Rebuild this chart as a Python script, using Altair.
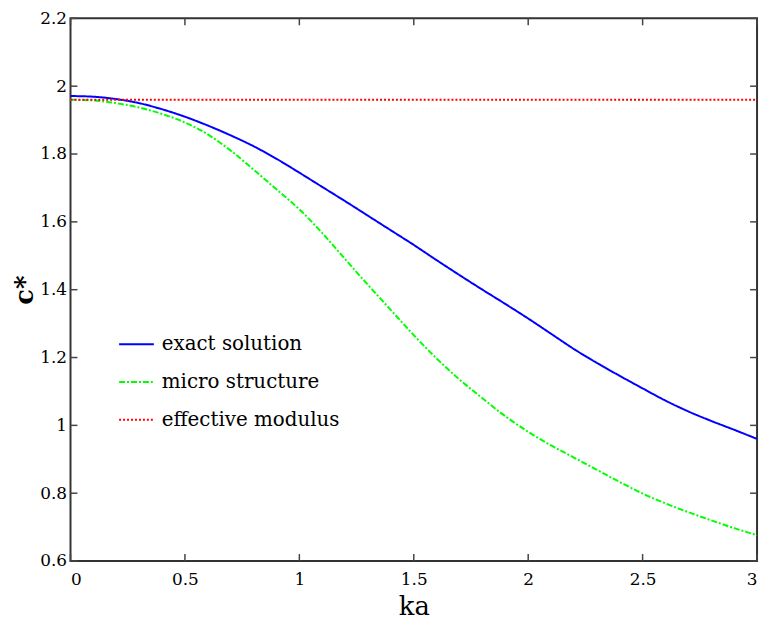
import altair as alt
import pandas as pd

# ---- data ----
ka = [0.0, 0.1, 0.2, 0.3, 0.4, 0.5, 0.6, 0.7, 0.8, 0.9, 1.0,
      1.1, 1.2, 1.3, 1.4, 1.5, 1.6, 1.7, 1.8, 1.9, 2.0,
      2.1, 2.2, 2.3, 2.4, 2.5, 2.6, 2.7, 2.8, 2.9, 3.0]
exact_solution = [1.971, 1.969, 1.962, 1.950, 1.932, 1.910, 1.884, 1.855, 1.823, 1.786, 1.745,
                  1.703, 1.661, 1.618, 1.575, 1.532, 1.487, 1.443, 1.400, 1.358, 1.315,
                  1.270, 1.225, 1.184, 1.146, 1.109, 1.073, 1.041, 1.013, 0.987, 0.960]
micro_structure = [1.960, 1.958, 1.950, 1.937, 1.918, 1.893, 1.858, 1.810, 1.754, 1.696, 1.637,
                   1.567, 1.490, 1.414, 1.340, 1.266, 1.197, 1.135, 1.080, 1.027, 0.981,
                   0.941, 0.905, 0.869, 0.833, 0.799, 0.770, 0.744, 0.720, 0.697, 0.676]
effective_modulus = [1.96] * len(ka)

series_names = ["exact solution", "micro structure", "effective modulus"]
series_colors = ["#0000FF", "#00FF00", "#FF0000"]
series_dashes = [[1, 0], [6, 2, 2, 2], [2, 2]]

x_ticks = [0, 0.5, 1, 1.5, 2, 2.5, 3]
y_ticks = [0.6, 0.8, 1.0, 1.2, 1.4, 1.6, 1.8, 2.0, 2.2]

W, H = 692, 547
FONT = "DejaVu Serif"

rows = []
for name, vals in zip(series_names, [exact_solution, micro_structure, effective_modulus]):
    for k, v in zip(ka, vals):
        rows.append({"ka": k, "c": v, "series": name})
df = pd.DataFrame(rows)

xscale = alt.Scale(domain=[0, 3], nice=False, zero=False)
yscale = alt.Scale(domain=[0.6, 2.2], nice=False, zero=False)

lines = alt.Chart(df).mark_line(strokeWidth=2, interpolate="monotone").encode(
    x=alt.X("ka:Q", scale=xscale,
            axis=alt.Axis(values=x_ticks, format="~g", title="ka", tickSize=0,
                          labelFont=FONT, labelFontSize=17, labelColor="black",
                          labelPadding=11, titlePadding=6, titleFont=FONT,
                          titleFontSize=26, titleFontWeight="normal",
                          titleColor="black", grid=False, domain=False)),
    y=alt.Y("c:Q", scale=yscale,
            axis=alt.Axis(values=y_ticks, format="~g", title="c*", tickSize=0,
                          labelFont=FONT, labelFontSize=17, labelColor="black",
                          labelPadding=4, titlePadding=2, titleFont=FONT,
                          titleFontSize=26, titleFontWeight="bold",
                          titleColor="black", grid=False, domain=False)),
    color=alt.Color("series:N",
                    scale=alt.Scale(domain=series_names, range=series_colors),
                    legend=alt.Legend(title=None, orient="none", legendX=48, legendY=310,
                                      symbolType="stroke", symbolSize=1225,
                                      symbolStrokeWidth=2, labelFont=FONT,
                                      labelFontSize=20, labelColor="black",
                                      labelOffset=7, rowPadding=9,
                                      labelLimit=400)),
    strokeDash=alt.StrokeDash("series:N",
                              scale=alt.Scale(domain=series_names, range=series_dashes),
                              legend=None),
    order=alt.Order("ka:Q"),
)

xt = pd.DataFrame({"v": x_ticks})
yt = pd.DataFrame({"v": y_ticks})
tick_color = "#444444"

xb = alt.Chart(xt).mark_rule(color=tick_color, strokeWidth=1.5).encode(
    x=alt.X("v:Q", scale=xscale), y=alt.value(H), y2=alt.value(H - 7))
xtop = alt.Chart(xt).mark_rule(color=tick_color, strokeWidth=1.5).encode(
    x=alt.X("v:Q", scale=xscale), y=alt.value(0), y2=alt.value(7))
yl = alt.Chart(yt).mark_rule(color=tick_color, strokeWidth=1.5).encode(
    y=alt.Y("v:Q", scale=yscale), x=alt.value(0), x2=alt.value(7))
yr = alt.Chart(yt).mark_rule(color=tick_color, strokeWidth=1.5).encode(
    y=alt.Y("v:Q", scale=yscale), x=alt.value(W), x2=alt.value(W - 7))

chart = alt.layer(lines, xb, xtop, yl, yr).properties(
    width=W, height=H,
    background="white",
    autosize=alt.AutoSizeParams(type="none"),
    padding={"left": 63, "top": 8, "right": 5, "bottom": 58},
).configure_view(
    stroke="#333333", strokeWidth=2
)

chart.save("out.html", embed_options={"renderer": "svg", "actions": False})
